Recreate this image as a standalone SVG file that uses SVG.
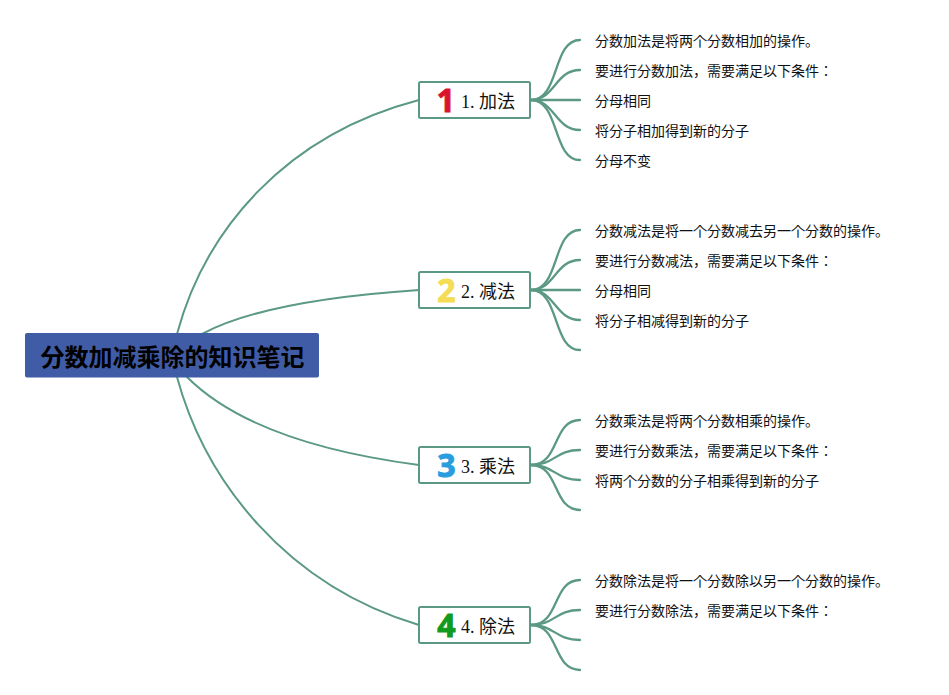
<svg xmlns="http://www.w3.org/2000/svg" width="949" height="695" viewBox="0 0 949 695">
<style>
.c{fill:none;stroke:#5b9985;stroke-width:2;stroke-linecap:round}
.f{stroke-width:2.300}
.b{fill:#fff;stroke:#5b9985;stroke-width:2}
.t{font-family:"Liberation Serif","Noto Sans CJK JP",serif;font-size:18px;fill:#111}
.l{font-family:"Liberation Serif","Noto Sans CJK JP",serif;font-size:14px;fill:#111}
.r{font-family:"Noto Sans CJK JP",sans-serif;font-size:24px;font-weight:700;fill:#000}
.i{font-family:"Open Sans",sans-serif;font-size:32px;font-weight:700;text-anchor:middle;stroke-width:1;stroke-linejoin:round}
</style>
<rect width="949" height="695" fill="#fff"/>
<g id="connectors">
<path class="c" d="M177 334C205 230 285 135 419 100"/>
<path class="c" d="M202 334C250 308 330 296 419 290"/>
<path class="c" d="M187 377C235 425 320 452 419 465"/>
<path class="c" d="M177 377C205 480 285 585 419 625"/>
<path class="c f" d="M531 100C560 100 552 40 580 40"/>
<path class="c f" d="M531 100C555 100 555 70 580 70"/>
<path class="c f" d="M531 100H580"/>
<path class="c f" d="M531 100C555 100 555 130 580 130"/>
<path class="c f" d="M531 100C560 100 552 160 580 160"/>
<path class="c f" d="M531 290C560 290 552 230 580 230"/>
<path class="c f" d="M531 290C555 290 555 260 580 260"/>
<path class="c f" d="M531 290H580"/>
<path class="c f" d="M531 290C555 290 555 320 580 320"/>
<path class="c f" d="M531 290C560 290 552 350 580 350"/>
<path class="c f" d="M531 465C560 465 552 420 580 420"/>
<path class="c f" d="M531 465C555 465 555 450 580 450"/>
<path class="c f" d="M531 465C555 465 555 480 580 480"/>
<path class="c f" d="M531 465C560 465 552 510 580 510"/>
<path class="c f" d="M531 625C560 625 552 580 580 580"/>
<path class="c f" d="M531 625C555 625 555 610 580 610"/>
<path class="c f" d="M531 625C555 625 555 640 580 640"/>
<path class="c f" d="M531 625C560 625 552 670 580 670"/>
</g>
<g id="root"><rect x="25" y="333" width="294" height="44.500" rx="2" fill="#405ca6"/><text class="r" x="40.500" y="366">分数加减乘除的知识笔记</text></g>
<g id="n1"><rect class="b" x="419" y="82" width="111" height="36" rx="1.500"/><text class="i" x="446" y="111.500" fill="#d8142f" stroke="#d8142f">1</text><text class="t" x="461" y="108">1. 加法</text></g>
<g id="n2"><rect class="b" x="419" y="272" width="111" height="36" rx="1.500"/><text class="i" x="446.500" y="301.500" fill="#f5dc55" stroke="#f5dc55">2</text><text class="t" x="461" y="298">2. 减法</text></g>
<g id="n3"><rect class="b" x="419" y="447" width="111" height="36" rx="1.500"/><text class="i" x="446.500" y="476.500" fill="#2a9ddf" stroke="#2a9ddf">3</text><text class="t" x="461" y="473">3. 乘法</text></g>
<g id="n4"><rect class="b" x="419" y="607" width="111" height="36" rx="1.500"/><text class="i" x="446.500" y="636.500" fill="#109a1e" stroke="#109a1e">4</text><text class="t" x="461" y="633">4. 除法</text></g>
<g id="leaf11"><text class="l" x="595" y="46">分数加法是将两个分数相加的操作。</text></g>
<g id="leaf12"><text class="l" x="595" y="76">要进行分数加法，需要满足以下条件：</text></g>
<g id="leaf13"><text class="l" x="595" y="106">分母相同</text></g>
<g id="leaf14"><text class="l" x="595" y="136">将分子相加得到新的分子</text></g>
<g id="leaf15"><text class="l" x="595" y="166">分母不变</text></g>
<g id="leaf21"><text class="l" x="595" y="236">分数减法是将一个分数减去另一个分数的操作。</text></g>
<g id="leaf22"><text class="l" x="595" y="266">要进行分数减法，需要满足以下条件：</text></g>
<g id="leaf23"><text class="l" x="595" y="296">分母相同</text></g>
<g id="leaf24"><text class="l" x="595" y="326">将分子相减得到新的分子</text></g>
<g id="leaf31"><text class="l" x="595" y="426">分数乘法是将两个分数相乘的操作。</text></g>
<g id="leaf32"><text class="l" x="595" y="456">要进行分数乘法，需要满足以下条件：</text></g>
<g id="leaf33"><text class="l" x="595" y="486">将两个分数的分子相乘得到新的分子</text></g>
<g id="leaf41"><text class="l" x="595" y="586">分数除法是将一个分数除以另一个分数的操作。</text></g>
<g id="leaf42"><text class="l" x="595" y="616">要进行分数除法，需要满足以下条件：</text></g>
</svg>
